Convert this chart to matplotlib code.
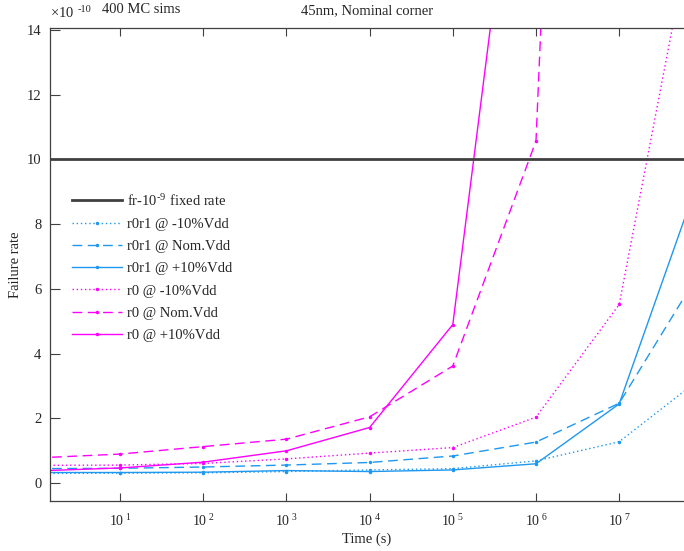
import numpy as np
import matplotlib
matplotlib.use("Agg")
import matplotlib.pyplot as plt
from matplotlib.ticker import FixedLocator, NullLocator

plt.rcParams['font.family'] = ['Liberation Serif', 'DejaVu Serif']
plt.rcParams['mathtext.fontset'] = 'stix'

# Simulation time points (s) and failure rates (in units of 1e-10)
time_s = [1e0, 1e1, 1e2, 1e3, 1e4, 1e5, 1e6, 1e7, 1e8]
r0r1_m10 = [0.30, 0.31, 0.32, 0.36, 0.41, 0.45, 0.69, 1.28, 3.28]
r0r1_nom = [0.45, 0.46, 0.50, 0.56, 0.64, 0.84, 1.27, 2.47, 6.66]
r0r1_p10 = [0.33, 0.33, 0.34, 0.39, 0.36, 0.41, 0.60, 2.45, 9.73]
r0_m10 = [0.55, 0.56, 0.61, 0.75, 0.93, 1.10, 2.04, 5.52, 18.9]
r0_nom = [0.78, 0.90, 1.13, 1.36, 2.05, 3.62, 10.57, 70.6, np.nan]
r0_p10 = [0.38, 0.47, 0.65, 1.00, 1.72, 4.90, 25.2, np.nan, np.nan]
fixed_rate = 10.0  # 1e-9 expressed in units of 1e-10

labels = ['r0r1 @ -10%Vdd', 'r0r1 @ Nom.Vdd', 'r0r1 @ +10%Vdd',
          'r0 @ -10%Vdd', 'r0 @ Nom.Vdd', 'r0 @ +10%Vdd']
xtick_exp = [1, 2, 3, 4, 5, 6, 7]
yticks = [0, 2, 4, 6, 8, 10, 12, 14]

blue = '#1e98f0'
mag = '#ff00ff'
dark = '#404040'
txt = '#262626'
HY = '\u2010'  # short hyphen for exponents

fig = plt.figure(figsize=(6.84, 5.51), dpi=100)
W, H = 684, 551
ax = fig.add_axes([49.7 / W, 1 - 501 / H, (684 - 49.7) / W, (501 - 27.7) / H])

ax.axhline(fixed_rate, color=dark, lw=2.0,
           label='fr-10$^{\\mathregular{' + HY + '9}}$ fixed rate', zorder=3)

series = [r0r1_m10, r0r1_nom, r0r1_p10, r0_m10, r0_nom, r0_p10]
colors = [blue, blue, blue, mag, mag, mag]
styles = [(0, (1, 2)), (0, (7, 4)), '-', (0, (1, 2)), (0, (7, 4)), '-']
for vals, c, ls, lab in zip(series, colors, styles, labels):
    ax.plot(time_s, vals, color=c, ls=ls, lw=1.0, marker='.', ms=3,
            label=lab, zorder=2)

ax.set_xscale('log')
ax.set_xlim(10 ** 0.155, 10 ** 7.779)
ax.set_ylim(-0.55, 14.07)

ax.xaxis.set_major_locator(FixedLocator([10.0 ** e for e in xtick_exp]))
ax.xaxis.set_minor_locator(NullLocator())
ax.set_xticklabels([r'$\mathregular{10^{\ %d}}$' % e for e in xtick_exp])
ax.set_yticks(yticks)
ax.set_yticklabels([str(v) for v in yticks])

ax.tick_params(axis='x', which='major', direction='in', top=True, bottom=True,
               length=6, width=0.8, color=dark, labelsize=10, labelcolor=txt, pad=9)
ax.tick_params(axis='y', which='major', direction='in', left=True, right=False,
               length=7, width=0.8, color=dark, labelsize=10.5, labelcolor=txt, pad=6)

for side in ['left', 'bottom', 'top']:
    ax.spines[side].set_color(dark)
    ax.spines[side].set_linewidth(0.9)
ax.spines['right'].set_visible(False)

ax.set_xlabel('Time (s)', fontsize=10.5, color=txt, labelpad=2)
ax.set_ylabel('Failure rate', fontsize=10.5, color=txt)
ax.yaxis.set_label_coords(-0.0437, 0.5)
ax.set_title('45nm, Nominal corner', fontsize=10.5, color=txt, pad=10)

# exponent label for the y axis, drawn as base and raised power
fig.text(50 / W, 1 - 17 / H, r'$\mathregular{\times 10}$', fontsize=10.5,
         color=txt, ha='left', va='baseline')
fig.text(78 / W, 1 - 12 / H, HY + '10', fontsize=7.5,
         color=txt, ha='left', va='baseline')
fig.text(102 / W, 1 - 13 / H, '400 MC sims', fontsize=10.5, color=txt,
         ha='left', va='baseline')

leg = ax.legend(loc='upper left', bbox_to_anchor=(72 / W, 1 - 192 / H),
                bbox_transform=fig.transFigure, frameon=False, fontsize=10.5,
                handlelength=3.4, handletextpad=0.35, labelspacing=0.62,
                borderpad=0, borderaxespad=0, numpoints=1)
for t in leg.get_texts():
    t.set_color(txt)

fig.savefig('out.png', dpi=100)
